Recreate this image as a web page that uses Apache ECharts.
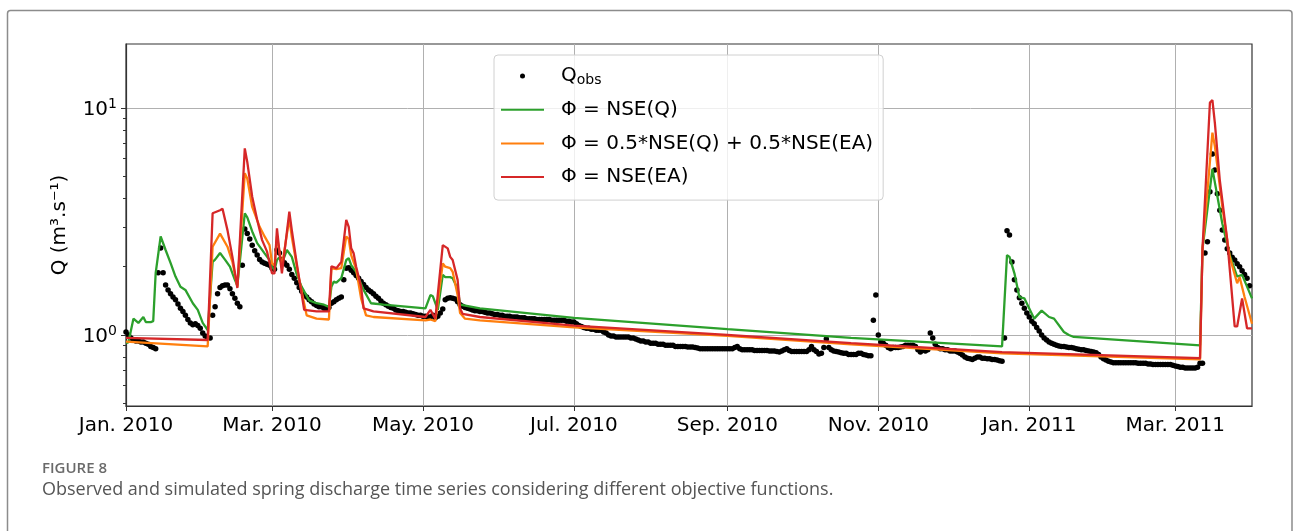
<!DOCTYPE html>
<html><head><meta charset="utf-8">
<script src="https://cdn.jsdelivr.net/npm/echarts@6/dist/echarts.min.js"></script>
<style>html,body{margin:0;padding:0;background:#fff}#c{width:1293px;height:531px}</style>
</head><body><div id="c"></div>
<script>
// ---- data (x = day offset from 1 Jan 2010) ----
const xStart = [2010, 0, 1];
const xEndDay = 455;
const xTickDates = [[2010,0,1],[2010,2,1],[2010,4,1],[2010,6,1],[2010,8,1],[2010,10,1],[2011,0,1],[2011,2,1]];
const xTickLabels = ['Jan. 2010','Mar. 2010','May. 2010','Jul. 2010','Sep. 2010','Nov. 2010','Jan. 2011','Mar. 2011'];
const yMin = 0.486, yMax = 19.2;
const yTickValues = [1, 10];
const yTickExponents = ['0', '1'];
const yMinorTicks = [0.5,0.6,0.7,0.8,0.9,2,3,4,5,6,7,8,9];
const seriesNames = ['Qobs', 'Φ = NSE(Q)', 'Φ = 0.5*NSE(Q) + 0.5*NSE(EA)', 'Φ = NSE(EA)'];

// observed discharge: [first day, daily values]
const obsSegments = [
 [0,   [1.03,1.0,0.97,0.95,0.94,0.94,0.93,0.93,0.92,0.91,0.89,0.88,0.87]],
 [13,  [1.88,2.42,1.88,1.66,1.58,1.52,1.47,1.43,1.37,1.31,1.27,1.22,1.17,1.13,1.11,1.12,1.1,1.07,1.02,0.99,0.97,0.97]],
 [35,  [1.22,1.33,1.52,1.62,1.65,1.66,1.66,1.6,1.52,1.45,1.38,1.33]],
 [47,  [2.03,2.93,2.8,2.65,2.49,2.35,2.25,2.15,2.1,2.07,2.05,2.03,1.97,1.95]],
 [61,  [2.37,2.3,2.15,2.08,2.03,1.95,1.85,1.78,1.7,1.62,1.56,1.5,1.47,1.43,1.4,1.37,1.35,1.33,1.33,1.31,1.3]],
 [82,  [1.32,1.38,1.4,1.43,1.45,1.47,1.75,1.97,1.98,1.93,1.88,1.83,1.78,1.72,1.67,1.62,1.58,1.55]],
 [100, [1.52,1.48,1.45,1.41,1.38,1.36,1.34,1.32,1.31,1.29,1.28,1.27,1.27,1.26,1.25,1.25,1.24,1.23,1.22,1.22,1.21,1.21,1.2,1.2]],
 [124, [1.22,1.19,1.21,1.25,1.3,1.43,1.45,1.46,1.45,1.44,1.4,1.36,1.34,1.32,1.31,1.3,1.29,1.28,1.28,1.27,1.27,1.26,1.25,1.25,1.24,1.23,1.23,1.22]],
 [152, [1.22,1.21,1.21,1.21,1.2,1.2,1.2,1.19,1.19,1.19,1.18,1.18,1.18,1.18,1.17,1.17,1.17,1.17,1.17,1.17,1.16,1.16,1.16,1.16,1.16,1.16,1.15,1.15,1.14,1.14]],
 [182, [1.12,1.1,1.09,1.08,1.07,1.07,1.06,1.06,1.05,1.05,1.05,1.03,1.02,1.0,0.99,0.99,0.98,0.98,0.98,0.98,0.98,0.98,0.97,0.97,0.96,0.95,0.94,0.94,0.93,0.93,0.92]],
 [213, [0.92,0.92,0.91,0.91,0.91,0.9,0.9,0.9,0.9,0.89,0.89,0.89,0.89,0.89,0.885,0.885,0.885,0.88,0.875,0.87,0.87,0.87,0.87,0.87,0.87,0.87,0.87,0.87,0.87,0.87,0.87,0.87,0.87,0.88,0.89,0.87,0.86,0.86]],
 [251, [0.86,0.86,0.86,0.855,0.855,0.855,0.855,0.855,0.855,0.85,0.85,0.85,0.845,0.84,0.85,0.86,0.87,0.855,0.845,0.845,0.845,0.845,0.845,0.845,0.845,0.86,0.89,0.86,0.845,0.825,0.83,0.88,0.96,0.88,0.86,0.85]],
 [287, [0.845,0.84,0.835,0.83,0.83,0.82,0.82,0.82,0.82,0.83,0.83,0.82,0.815,0.81,0.81]],
 [302, [1.16,1.5,1.0,0.93,0.92,0.9,0.88,0.87,0.88,0.88,0.88,0.885,0.89,0.9,0.9,0.9,0.9,0.89,0.86,0.84,0.86,0.85,0.86,1.02,0.97,0.91,0.88,0.87,0.87,0.86,0.86,0.85,0.85,0.85,0.84,0.83,0.815,0.8,0.79,0.785,0.78,0.79,0.8,0.8,0.79,0.79,0.785,0.785,0.78,0.78,0.775,0.77,0.765]],
 [355, [0.97,2.88,2.76,2.1,1.75,1.58,1.46,1.38,1.31,1.25,1.2,1.15,1.12,1.08,1.04,1.0,0.97,0.95,0.93,0.92,0.91,0.9]],
 [377, [0.895,0.89,0.89,0.885,0.88,0.88,0.875,0.87,0.865,0.86,0.86,0.855,0.85,0.845,0.84,0.835,0.82,0.8,0.785,0.775,0.765,0.76,0.755,0.755,0.755,0.755,0.755,0.755,0.755,0.755,0.755,0.755,0.75,0.75]],
 [411, [0.75,0.75,0.745,0.745,0.74,0.74,0.74,0.74,0.74,0.74,0.74,0.74,0.735,0.73,0.725,0.72,0.72,0.715,0.715,0.715,0.715,0.715,0.72,0.75,0.75]],
 [436, [2.3,2.58,4.28,6.28,5.34,4.2,3.55,2.9,2.62,2.4,2.3,2.2,2.14,2.06,2.0,1.92,1.85,1.78,1.65]]
];

// simulated discharge, [day, value]
const simNSEQ = [[0,0.92],[1,0.93],[3,1.18],[5,1.13],[7,1.2],[8,1.14],[10,1.14],[11,1.15],[12,1.88],[14,2.72],[16,2.37],[18,2.08],[20,1.81],[22,1.63],[24,1.58],[27,1.38],[29,1.29],[31,1.13],[33,1.05],[35,2.1],[36,2.15],[38,2.3],[40,2.15],[42,2.0],[44,1.75],[45,1.65],[48,3.44],[49,3.3],[51,2.86],[53,2.54],[56,2.29],[58,2.14],[59,2.0],[60,1.93],[61,2.14],[62,2.2],[63,2.07],[65,2.37],[67,2.21],[69,1.85],[71,1.63],[74,1.42],[77,1.38],[80,1.36],[82,1.33],[83,1.63],[84,1.72],[85,1.7],[87,1.78],[89,2.14],[90,2.18],[91,2.03],[93,1.9],[94,1.78],[96,1.58],[99,1.38],[104,1.36],[121,1.31],[123,1.5],[124,1.48],[126,1.29],[128,1.84],[129,1.8],[131,1.8],[132,1.78],[134,1.6],[135,1.36],[143,1.31],[181,1.19],[243,1.06],[293,0.97],[354,0.89],[356,2.25],[357,2.21],[359,1.87],[361,1.47],[363,1.45],[367,1.18],[370,1.28],[373,1.2],[375,1.18],[379,1.03],[381,1.0],[383,0.98],[434,0.9],[435,2.4],[439,5.4],[443,3.1],[446,2.25],[449,1.81],[451,1.84],[455,1.45]];
const simMix = [[0,0.935],[33,0.89],[35,2.45],[38,2.8],[41,2.45],[43,2.1],[45,1.63],[48,5.17],[49,4.9],[51,3.67],[54,3.0],[56,2.72],[58,2.49],[59,2.07],[60,2.02],[61,2.72],[63,2.0],[66,3.27],[67,2.7],[70,1.75],[73,1.22],[77,1.18],[82,1.17],[83,1.97],[85,1.95],[87,1.97],[89,2.72],[90,2.65],[91,2.25],[93,1.95],[95,1.45],[97,1.22],[100,1.2],[121,1.16],[123,1.17],[125,1.15],[128,2.07],[129,2.0],[131,1.97],[132,1.9],[134,1.5],[135,1.25],[137,1.18],[143,1.16],[181,1.08],[243,0.99],[293,0.91],[354,0.83],[434,0.78],[435,2.4],[439,7.8],[440,6.8],[443,3.68],[446,2.21],[449,1.69],[450,1.8],[452,1.47],[455,1.12]];
const simNSEEA = [[0,0.97],[33,0.95],[35,3.44],[38,3.55],[39,3.6],[41,2.9],[43,2.21],[45,1.61],[48,6.65],[49,5.8],[51,4.07],[53,3.22],[55,2.62],[57,2.33],[59,1.87],[60,1.87],[61,2.95],[62,2.33],[63,1.87],[66,3.5],[67,2.9],[69,2.07],[72,1.29],[77,1.27],[82,1.27],[83,2.01],[85,1.97],[87,2.1],[89,3.22],[90,3.0],[91,2.41],[92,2.29],[93,2.0],[95,1.63],[96,1.31],[100,1.27],[121,1.2],[123,1.29],[125,1.18],[128,2.49],[130,2.41],[131,2.21],[132,2.14],[134,1.75],[135,1.31],[136,1.24],[143,1.2],[181,1.1],[243,1.0],[293,0.92],[354,0.84],[434,0.79],[435,2.4],[438,10.6],[439,10.85],[440,8.6],[442,4.8],[445,2.62],[448,1.09],[449,1.09],[451,1.45],[453,1.07],[455,1.07]];

// ---- build ----
const dayTs = d => new Date(xStart[0], xStart[1], xStart[2] + d).getTime();
const obsData = [];
obsSegments.forEach(([d0, vals]) => vals.forEach((v, i) => obsData.push([dayTs(d0 + i), v])));
const toSeries = arr => arr.map(([d, v]) => [dayTs(d), v]);
const xTickTs = xTickDates.map(a => new Date(a[0], a[1], a[2]).getTime());

const FONT = 'DejaVu Sans';
const FS = 20;
const chart = echarts.init(document.getElementById('c'), null, {renderer: 'canvas'});
chart.setOption({
  animation: false,
  backgroundColor: '#fff',
  grid: {left: 126, right: 41, top: 44, bottom: 125, show: true, borderColor: '#333', borderWidth: 1.2},
  legend: {
    orient: 'vertical', left: 494, top: 55,
    padding: [10, 10, 12, 6],
    itemWidth: 43, itemHeight: 5, itemGap: 11.7,
    backgroundColor: 'rgba(255,255,255,0.8)', borderColor: '#d0d0d0', borderWidth: 1, borderRadius: 4,
    data: [
      {name: seriesNames[0], icon: 'circle', itemStyle: {color: '#000', opacity: 1}},
      {name: seriesNames[1], itemStyle: {opacity: 0}},
      {name: seriesNames[2], itemStyle: {opacity: 0}},
      {name: seriesNames[3], itemStyle: {opacity: 0}}
    ],
    formatter: name => name === seriesNames[0] ? '{q|Q}{s|obs}' : name,
    textStyle: {
      fontFamily: FONT, fontSize: FS, color: '#000', lineHeight: 22, padding: [0, 0, 0, 12],
      rich: {
        q: {fontFamily: FONT, fontSize: FS, color: '#000', lineHeight: 22},
        s: {fontFamily: FONT, fontSize: 14, color: '#000', lineHeight: 14, verticalAlign: 'bottom'}
      }
    }
  },
  xAxis: {
    type: 'value', min: dayTs(0), max: dayTs(xEndDay),
    axisLine: {show: true, lineStyle: {color: '#333', width: 1.2}},
    axisTick: {show: true, length: 5, customValues: xTickTs, lineStyle: {color: '#333'}},
    axisLabel: {
      customValues: xTickTs, margin: 10, fontFamily: FONT, fontSize: FS, color: '#000',
      formatter: v => { let i = xTickTs.findIndex(t => Math.abs(t - v) < 3600e3 * 12); return i >= 0 ? xTickLabels[i] : ''; }
    },
    splitLine: {show: true, lineStyle: {color: '#b0b0b0', width: 1}}
  },
  yAxis: [{
    type: 'log', logBase: 10, min: yMin, max: yMax,
    name: 'Q (m³.s⁻¹)', nameLocation: 'middle', nameGap: 56, nameRotate: 90,
    nameTextStyle: {fontFamily: FONT, fontSize: FS, color: '#000'},
    axisLine: {show: true, lineStyle: {color: '#333', width: 1.2}},
    axisTick: {show: true, length: 5, customValues: yTickValues, lineStyle: {color: '#333'}},
    axisLabel: {
      customValues: yTickValues, margin: 9,
      formatter: v => {
        let best = 0;
        yTickValues.forEach((t, i) => { if (Math.abs(Math.log10(t) - Math.log10(v)) < Math.abs(Math.log10(yTickValues[best]) - Math.log10(v))) best = i; });
        return '{b|10}{e|' + yTickExponents[best] + '}';
      },
      rich: {
        b: {fontFamily: FONT, fontSize: FS, color: '#000', lineHeight: 22, padding: [4, 0, 0, 0]},
        e: {fontFamily: FONT, fontSize: 14, color: '#000', lineHeight: 14, verticalAlign: 'top'}
      }
    },
    splitLine: {show: true, lineStyle: {color: '#b0b0b0', width: 1}}
  }, {
    type: 'log', logBase: 10, min: yMin, max: yMax, position: 'left',
    axisLine: {show: false},
    axisTick: {show: true, length: 3, customValues: yMinorTicks, lineStyle: {color: '#333'}},
    axisLabel: {show: false},
    splitLine: {show: false}
  }],
  series: [
    {name: seriesNames[0], type: 'scatter', data: obsData, symbol: 'circle', symbolSize: 5.5, itemStyle: {color: '#000', opacity: 1}, yAxisIndex: 0},
    {name: seriesNames[1], type: 'line', data: toSeries(simNSEQ), symbol: 'none', lineStyle: {color: '#2ca02c', width: 2.3}, itemStyle: {color: '#2ca02c'}},
    {name: seriesNames[2], type: 'line', data: toSeries(simMix), symbol: 'none', lineStyle: {color: '#ff7f0e', width: 2.3}, itemStyle: {color: '#ff7f0e'}},
    {name: seriesNames[3], type: 'line', data: toSeries(simNSEEA), symbol: 'none', lineStyle: {color: '#d62728', width: 2.3}, itemStyle: {color: '#d62728'}}
  ],
  graphic: [
    {type: 'rect', silent: true, z: -10, shape: {x: 7.5, y: 10.5, width: 1284.5, height: 540, r: 3}, style: {fill: 'none', stroke: '#8c8c8c', lineWidth: 1.5}},
    {type: 'text', left: 42, top: 461, style: {text: 'FIGURE 8', font: '600 15px "Open Sans"', fill: '#6a6a6a'}},
    {type: 'text', left: 42, top: 481, style: {text: 'Observed and simulated spring discharge time series considering different objective functions.', font: '18px "Open Sans"', fill: '#555'}}
  ]
});
</script></body></html>
